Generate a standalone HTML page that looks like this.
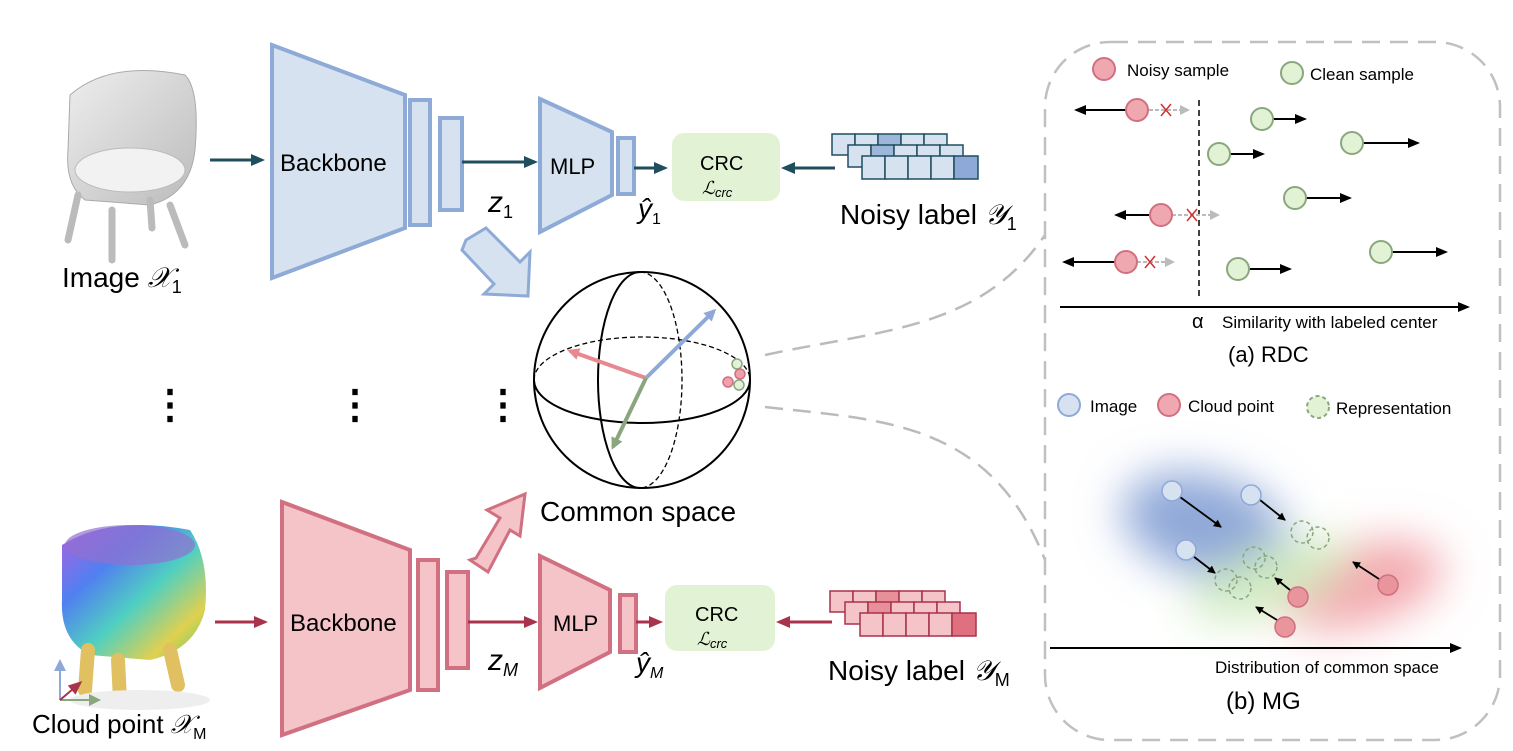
<!DOCTYPE html>
<html><head><meta charset="utf-8"><style>html,body{margin:0;padding:0;background:#fff}svg{display:block}text{font-family:"Liberation Sans",sans-serif}</style></head><body>
<svg width="1513" height="751" viewBox="0 0 1513 751" xmlns="http://www.w3.org/2000/svg">
<defs>
<marker id="ad" markerWidth="14" markerHeight="12" refX="11" refY="6" orient="auto" markerUnits="userSpaceOnUse"><path d="M0,0 L14,6 L0,12 z" fill="#1f4e5f"/></marker>
<marker id="ar" markerWidth="14" markerHeight="12" refX="11" refY="6" orient="auto" markerUnits="userSpaceOnUse"><path d="M0,0 L14,6 L0,12 z" fill="#a8334a"/></marker>
<marker id="ak" markerWidth="12" markerHeight="10" refX="10" refY="5" orient="auto" markerUnits="userSpaceOnUse"><path d="M0,0 L12,5 L0,10 z" fill="#000"/></marker>
<marker id="ak2" markerWidth="8" markerHeight="8" refX="7" refY="4" orient="auto" markerUnits="userSpaceOnUse"><path d="M0,0 L8,4 L0,8 z" fill="#000"/></marker>
<marker id="ag" markerWidth="10" markerHeight="10" refX="8" refY="5" orient="auto" markerUnits="userSpaceOnUse"><path d="M0,0 L10,5 L0,10 z" fill="#bbb"/></marker>
<marker id="ab" markerWidth="12" markerHeight="12" refX="9" refY="6" orient="auto" markerUnits="userSpaceOnUse"><path d="M0,0 L12,6 L0,12 z" fill="#8ea9d8"/></marker>
<marker id="ap" markerWidth="12" markerHeight="12" refX="9" refY="6" orient="auto" markerUnits="userSpaceOnUse"><path d="M0,0 L12,6 L0,12 z" fill="#e8898f"/></marker>
<marker id="agr" markerWidth="12" markerHeight="12" refX="9" refY="6" orient="auto" markerUnits="userSpaceOnUse"><path d="M0,0 L12,6 L0,12 z" fill="#8aa67e"/></marker>
<filter id="bl" x="-50%" y="-50%" width="200%" height="200%"><feGaussianBlur stdDeviation="22"/></filter>
<linearGradient id="rb" x1="0" y1="0" x2="1" y2="1"><stop offset="0" stop-color="#b060e0"/><stop offset=".3" stop-color="#5080f0"/><stop offset=".55" stop-color="#50d0c0"/><stop offset=".8" stop-color="#e0d050"/><stop offset="1" stop-color="#60d060"/></linearGradient>
<linearGradient id="gr" x1="0" y1="0" x2="1" y2="1"><stop offset="0" stop-color="#eee"/><stop offset="1" stop-color="#bbb"/></linearGradient>
</defs>

<g>
<path d="M70,95 Q110,60 185,75 Q200,90 195,150 Q190,195 150,205 L85,200 Q65,185 68,150 Z" fill="url(#gr)" stroke="#aaa"/>
<ellipse cx="130" cy="170" rx="55" ry="22" fill="#f2f2f2" stroke="#bbb"/>
<path d="M78,195 L68,240 M112,210 L112,260 M170,205 L185,245 M150,200 L152,228" stroke="#bbb" stroke-width="7" stroke-linecap="round"/>
</g>
<text x="62" y="287" font-size="28">Image <tspan font-family="Liberation Serif" font-style="italic">𝒳</tspan><tspan font-size="18" dy="6">1</tspan></text>

<line x1="210" y1="160" x2="262" y2="160" stroke="#1f4e5f" stroke-width="3" marker-end="url(#ad)"/>
<polygon points="272,45 405,95 405,228 272,278" fill="#d6e2f0" stroke="#8eaad6" stroke-width="4"/>
<text x="280" y="171" font-size="24">Backbone</text>
<rect x="410" y="100" width="20" height="125" fill="#d6e2f0" stroke="#8eaad6" stroke-width="4"/>
<rect x="440" y="118" width="22" height="92" fill="#d6e2f0" stroke="#8eaad6" stroke-width="4"/>
<line x1="462" y1="162" x2="535" y2="162" stroke="#1f4e5f" stroke-width="3" marker-end="url(#ad)"/>
<text x="488" y="212" font-size="30" font-family="Liberation Serif" font-style="italic">z<tspan font-size="18" dy="6" font-style="normal">1</tspan></text>
<polygon points="540,99 612,132 612,195 540,232" fill="#d6e2f0" stroke="#8eaad6" stroke-width="4"/>
<text x="550" y="174" font-size="22">MLP</text>
<rect x="618" y="138" width="16" height="56" fill="#d6e2f0" stroke="#8eaad6" stroke-width="4"/>
<line x1="634" y1="168" x2="665" y2="168" stroke="#1f4e5f" stroke-width="3" marker-end="url(#ad)"/>
<rect x="672" y="133" width="108" height="68" rx="12" fill="#e2f3d5"/>
<text x="700" y="170" font-size="20">CRC</text>
<text x="702" y="194" font-size="18" font-family="Liberation Serif" font-style="italic">ℒ<tspan font-size="13" dy="3">crc</tspan></text>
<text x="638" y="218" font-size="28" font-family="Liberation Serif" font-style="italic">ŷ<tspan font-size="16" dy="6" font-style="normal">1</tspan></text>
<line x1="835" y1="168" x2="784" y2="168" stroke="#1f4e5f" stroke-width="3" marker-end="url(#ad)"/>
<g stroke="#1f4e5f" stroke-width="1.5" fill="#d6e2f0">
<rect x="832" y="134" width="23" height="21"/><rect x="855" y="134" width="23" height="21"/><rect x="878" y="134" width="23" height="21" fill="#9db6da"/><rect x="901" y="134" width="23" height="21"/><rect x="924" y="134" width="23" height="21"/>
<rect x="848" y="145" width="23" height="22"/><rect x="871" y="145" width="23" height="22" fill="#9db6da"/><rect x="894" y="145" width="23" height="22"/><rect x="917" y="145" width="23" height="22"/><rect x="940" y="145" width="23" height="22"/>
<rect x="862" y="156" width="23" height="23"/><rect x="885" y="156" width="23" height="23"/><rect x="908" y="156" width="23" height="23"/><rect x="931" y="156" width="23" height="23"/><rect x="954" y="156" width="24" height="23" fill="#8ea9d8"/>
</g>
<text x="840" y="224" font-size="28">Noisy label <tspan font-family="Liberation Serif" font-style="italic">𝒴</tspan><tspan font-size="18" dy="6">1</tspan></text>

<polygon points="466,240 486,228 520,262 530,252 528,296 484,294 494,284 462,250" fill="#d6e2f0" stroke="#8eaad6" stroke-width="3"/>
<polygon points="470,560 488,572 510,530 520,536 525,494 487,510 500,518 476,558" fill="#f4c4c8" stroke="#d07080" stroke-width="3"/>

<g font-size="40" font-weight="bold"><text x="150" y="418">⋮</text><text x="335" y="418">⋮</text><text x="483" y="418">⋮</text></g>

<circle cx="642" cy="380" r="108" fill="none" stroke="#000" stroke-width="2"/>
<path d="M534,380 A108,43 0 0 0 750,380" fill="none" stroke="#000" stroke-width="2"/>
<path d="M534,380 A108,43 0 0 1 750,380" fill="none" stroke="#000" stroke-width="1.3" stroke-dasharray="5,3"/>
<path d="M640,272 A42,108 0 0 0 640,488" fill="none" stroke="#000" stroke-width="2"/>
<path d="M640,272 A42,108 0 0 1 640,488" fill="none" stroke="#000" stroke-width="1.3" stroke-dasharray="5,3"/>
<line x1="646" y1="378" x2="714" y2="311" stroke="#8ea9d8" stroke-width="4" marker-end="url(#ab)"/>
<line x1="646" y1="378" x2="570" y2="351" stroke="#e8898f" stroke-width="4" marker-end="url(#ap)"/>
<line x1="646" y1="378" x2="613" y2="447" stroke="#8aa67e" stroke-width="4" marker-end="url(#agr)"/>
<g stroke-width="1.5"><circle cx="737" cy="364" r="5" fill="#e2f3d5" stroke="#8aa67e"/><circle cx="740" cy="374" r="5" fill="#f0a0a8" stroke="#d07080"/><circle cx="739" cy="385" r="5" fill="#e2f3d5" stroke="#8aa67e"/><circle cx="728" cy="382" r="5" fill="#f0a0a8" stroke="#d07080"/></g>
<text x="540" y="521" font-size="28">Common space</text>

<path d="M765,355 C880,330 980,330 1045,235" fill="none" stroke="#bbb" stroke-width="2.5" stroke-dasharray="18,10"/>
<path d="M765,407 C880,420 990,420 1045,560" fill="none" stroke="#bbb" stroke-width="2.5" stroke-dasharray="18,10"/>

<g>
<path d="M62,545 Q110,515 190,530 Q210,560 205,610 Q195,650 150,660 L90,655 Q60,640 62,600 Z" fill="url(#rb)"/>
<ellipse cx="130" cy="545" rx="65" ry="20" fill="#9070d0" opacity=".7"/>
<path d="M88,650 L85,690 M118,660 L120,700 M170,650 L178,685" stroke="#e0c060" stroke-width="14" stroke-linecap="round"/>
<ellipse cx="140" cy="700" rx="70" ry="10" fill="#eee"/>
<line x1="60" y1="700" x2="60" y2="662" stroke="#8ea9d8" stroke-width="2" marker-end="url(#ab)"/>
<line x1="60" y1="700" x2="98" y2="700" stroke="#8aa67e" stroke-width="2" marker-end="url(#agr)"/>
<line x1="60" y1="700" x2="80" y2="683" stroke="#a8334a" stroke-width="2" marker-end="url(#ar)"/>
</g>
<text x="32" y="733" font-size="26">Cloud point <tspan font-family="Liberation Serif" font-style="italic">𝒳</tspan><tspan font-size="16" dy="6">M</tspan></text>

<line x1="215" y1="622" x2="265" y2="622" stroke="#a8334a" stroke-width="3" marker-end="url(#ar)"/>
<polygon points="282,502 410,550 410,690 282,735" fill="#f4c4c8" stroke="#d07080" stroke-width="4"/>
<text x="290" y="631" font-size="24">Backbone</text>
<rect x="418" y="560" width="20" height="130" fill="#f4c4c8" stroke="#d07080" stroke-width="4"/>
<rect x="447" y="572" width="21" height="96" fill="#f4c4c8" stroke="#d07080" stroke-width="4"/>
<line x1="468" y1="622" x2="535" y2="622" stroke="#a8334a" stroke-width="3" marker-end="url(#ar)"/>
<text x="488" y="670" font-size="30" font-family="Liberation Serif" font-style="italic">z<tspan font-size="18" dy="6">M</tspan></text>
<polygon points="540,556 610,590 610,652 540,688" fill="#f4c4c8" stroke="#d07080" stroke-width="4"/>
<text x="553" y="631" font-size="22">MLP</text>
<rect x="620" y="595" width="16" height="57" fill="#f4c4c8" stroke="#d07080" stroke-width="4"/>
<line x1="636" y1="622" x2="660" y2="622" stroke="#a8334a" stroke-width="3" marker-end="url(#ar)"/>
<rect x="665" y="585" width="110" height="66" rx="12" fill="#e2f3d5"/>
<text x="695" y="621" font-size="20">CRC</text>
<text x="697" y="645" font-size="18" font-family="Liberation Serif" font-style="italic">ℒ<tspan font-size="13" dy="3">crc</tspan></text>
<text x="636" y="672" font-size="28" font-family="Liberation Serif" font-style="italic">ŷ<tspan font-size="16" dy="6">M</tspan></text>
<line x1="832" y1="622" x2="779" y2="622" stroke="#a8334a" stroke-width="3" marker-end="url(#ar)"/>
<g stroke="#a8334a" stroke-width="1.5" fill="#f4c4c8">
<rect x="830" y="591" width="23" height="21"/><rect x="853" y="591" width="23" height="21"/><rect x="876" y="591" width="23" height="21" fill="#e8909a"/><rect x="899" y="591" width="23" height="21"/><rect x="922" y="591" width="23" height="21"/>
<rect x="845" y="602" width="23" height="22"/><rect x="868" y="602" width="23" height="22" fill="#e8909a"/><rect x="891" y="602" width="23" height="22"/><rect x="914" y="602" width="23" height="22"/><rect x="937" y="602" width="23" height="22"/>
<rect x="860" y="613" width="23" height="23"/><rect x="883" y="613" width="23" height="23"/><rect x="906" y="613" width="23" height="23"/><rect x="929" y="613" width="23" height="23"/><rect x="952" y="613" width="24" height="23" fill="#e07080"/>
</g>
<text x="828" y="680" font-size="28">Noisy label <tspan font-family="Liberation Serif" font-style="italic">𝒴</tspan><tspan font-size="18" dy="6">M</tspan></text>

<rect x="1045" y="42" width="455" height="698" rx="65" fill="none" stroke="#c0c0c0" stroke-width="2.5" stroke-dasharray="18,10"/>
<circle cx="1104" cy="69" r="11" fill="#f0a8b0" stroke="#d07080" stroke-width="2"/>
<text x="1127" y="76" font-size="17">Noisy sample</text>
<circle cx="1292" cy="73" r="11" fill="#e2f3d5" stroke="#8aa67e" stroke-width="2"/>
<text x="1310" y="80" font-size="17">Clean sample</text>
<line x1="1199" y1="100" x2="1199" y2="300" stroke="#000" stroke-width="1.5" stroke-dasharray="6,4"/>
<line x1="1060" y1="307" x2="1468" y2="307" stroke="#000" stroke-width="2" marker-end="url(#ak)"/>
<text x="1192" y="328" font-size="20" font-family="Liberation Serif">α</text>
<text x="1222" y="328" font-size="17">Similarity with labeled center</text>
<text x="1228" y="362" font-size="22">(a) RDC</text>
<g stroke-width="2">
<line x1="1126" y1="110" x2="1076" y2="110" stroke="#000" marker-end="url(#ak)"/>
<line x1="1149" y1="110" x2="1188" y2="110" stroke="#bbb" stroke-dasharray="4,2" marker-end="url(#ag)"/>
<circle cx="1137" cy="110" r="11" fill="#f0a8b0" stroke="#d07080"/>
<line x1="1149" y1="215" x2="1116" y2="215" stroke="#000" marker-end="url(#ak)"/>
<line x1="1172" y1="215" x2="1218" y2="215" stroke="#bbb" stroke-dasharray="4,2" marker-end="url(#ag)"/>
<circle cx="1161" cy="215" r="11" fill="#f0a8b0" stroke="#d07080"/>
<line x1="1115" y1="262" x2="1064" y2="262" stroke="#000" marker-end="url(#ak)"/>
<line x1="1137" y1="262" x2="1173" y2="262" stroke="#bbb" stroke-dasharray="4,2" marker-end="url(#ag)"/>
<circle cx="1126" cy="262" r="11" fill="#f0a8b0" stroke="#d07080"/>
</g>
<g stroke="#d03030" stroke-width="1.5">
<path d="M1161,104 l10,12 M1171,104 l-10,12"/><path d="M1187,209 l10,12 M1197,209 l-10,12"/><path d="M1145,256 l10,12 M1155,256 l-10,12"/>
</g>
<g stroke-width="2">
<line x1="1273" y1="119" x2="1305" y2="119" stroke="#000" marker-end="url(#ak)"/><circle cx="1262" cy="119" r="11" fill="#e2f3d5" stroke="#8aa67e"/>
<line x1="1230" y1="154" x2="1263" y2="154" stroke="#000" marker-end="url(#ak)"/><circle cx="1219" cy="154" r="11" fill="#e2f3d5" stroke="#8aa67e"/>
<line x1="1363" y1="143" x2="1418" y2="143" stroke="#000" marker-end="url(#ak)"/><circle cx="1352" cy="143" r="11" fill="#e2f3d5" stroke="#8aa67e"/>
<line x1="1306" y1="198" x2="1350" y2="198" stroke="#000" marker-end="url(#ak)"/><circle cx="1295" cy="198" r="11" fill="#e2f3d5" stroke="#8aa67e"/>
<line x1="1249" y1="269" x2="1290" y2="269" stroke="#000" marker-end="url(#ak)"/><circle cx="1238" cy="269" r="11" fill="#e2f3d5" stroke="#8aa67e"/>
<line x1="1392" y1="252" x2="1446" y2="252" stroke="#000" marker-end="url(#ak)"/><circle cx="1381" cy="252" r="11" fill="#e2f3d5" stroke="#8aa67e"/>
</g>

<circle cx="1069" cy="405" r="11" fill="#d6e2f0" stroke="#8ea9d8" stroke-width="2"/>
<text x="1090" y="412" font-size="17">Image</text>
<circle cx="1169" cy="405" r="11" fill="#f0a8b0" stroke="#d07080" stroke-width="2"/>
<text x="1188" y="412" font-size="17">Cloud point</text>
<circle cx="1318" cy="407" r="11" fill="#e2f3d5" stroke="#8aa67e" stroke-width="2" stroke-dasharray="4,3"/>
<text x="1336" y="414" font-size="17">Representation</text>
<g filter="url(#bl)">
<ellipse cx="1205" cy="525" rx="85" ry="50" fill="#8fa8d8" transform="rotate(15 1205 525)"/>
<ellipse cx="1360" cy="585" rx="85" ry="40" fill="#f3a8ae" transform="rotate(-15 1360 585)"/>
<ellipse cx="1270" cy="580" rx="85" ry="30" fill="#d0ecc0" transform="rotate(-20 1270 580)"/>
</g>
<g stroke="#000" stroke-width="1.8">
<line x1="1180" y1="497" x2="1221" y2="527" marker-end="url(#ak2)"/>
<line x1="1260" y1="500" x2="1285" y2="520" marker-end="url(#ak2)"/>
<line x1="1193" y1="556" x2="1215" y2="573" marker-end="url(#ak2)"/>
<line x1="1290" y1="590" x2="1275" y2="578" marker-end="url(#ak2)"/>
<line x1="1379" y1="579" x2="1353" y2="562" marker-end="url(#ak2)"/>
<line x1="1277" y1="620" x2="1256" y2="607" marker-end="url(#ak2)"/>
</g>
<g fill="#d6e2f0" stroke="#8ea9d8" stroke-width="1.5"><circle cx="1172" cy="491" r="10"/><circle cx="1251" cy="495" r="10"/><circle cx="1186" cy="550" r="10"/></g>
<g fill="none" stroke="#8aa67e" stroke-width="1.5" stroke-dasharray="4,3"><circle cx="1302" cy="532" r="11"/><circle cx="1318" cy="538" r="11"/><circle cx="1254" cy="558" r="11"/><circle cx="1266" cy="567" r="11"/><circle cx="1226" cy="580" r="11"/><circle cx="1240" cy="588" r="11"/></g>
<g fill="#e8959c" stroke="#d07080" stroke-width="1.5"><circle cx="1298" cy="597" r="10"/><circle cx="1388" cy="585" r="10"/><circle cx="1285" cy="627" r="10"/></g>
<line x1="1050" y1="648" x2="1460" y2="648" stroke="#000" stroke-width="2" marker-end="url(#ak)"/>
<text x="1215" y="673" font-size="17">Distribution of common space</text>
<text x="1226" y="709" font-size="24">(b) MG</text>
</svg>
</body></html>
